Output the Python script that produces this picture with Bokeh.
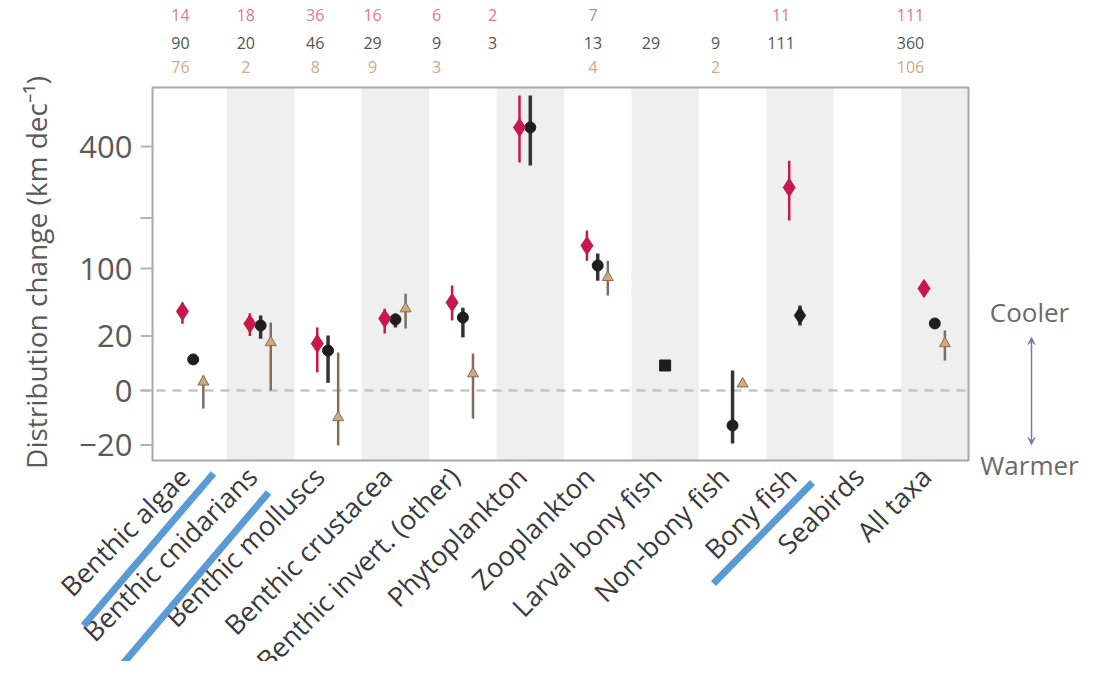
import numpy as np
from bokeh.plotting import figure
from bokeh.models import Range1d, Arrow, VeeHead, ColumnDataSource
from bokeh.core.properties import value
from bokeh.embed import file_html
from bokeh.resources import INLINE

nan = float("nan")

# ---------------- data ----------------
categories = ["Benthic algae", "Benthic cnidarians", "Benthic molluscs", "Benthic crustacea",
              "Benthic invert. (other)", "Phytoplankton", "Zooplankton", "Larval bony fish",
              "Non-bony fish", "Bony fish", "Seabirds", "All taxa"]

red_mid = [42, 30, 14.8, 34.8, 52, 465, 141, nan, nan, 277, nan, 70]
red_lo = [30, 20, 2.2, 21.8, 33, 349, 113, nan, nan, 194, nan, 59]
red_hi = [52, 40, 26.7, 45, 74, 585, 172, nan, nan, 355, nan, 81]

black_mid = [6.5, 28.4, 10.7, 33.9, 35.8, 465, 105, 4.2, -8.2, 37.8, nan, 30.2]
black_lo = [nan, 18, 0.4, 26.7, 18.9, 340, 81, nan, -18.9, 28.4, nan, nan]
black_hi = [nan, 37.8, 20.3, 39.8, 46, 585, 126, nan, 2.7, 48.5, nan, nan]
black_marker = ["circle", "circle", "circle", "circle", "circle", "circle", "circle",
                "square", "circle", "diamond", "circle", "circle"]

tan_mid = [0.5, 15.5, -4.9, 45, 1.9, nan, 86, nan, 0.3, nan, nan, 14.8]
tan_lo = [-2.2, 0, -20.3, 25.8, -5.3, nan, 60.6, nan, nan, nan, nan, 6]
tan_hi = [1.5, 31, 9.7, 63, 9.2, nan, 113, nan, nan, nan, nan, 24.2]

red_n = ["14", "18", "36", "16", "6", "2", "7", "", "", "11", "", "111"]
black_n = ["90", "20", "46", "29", "9", "3", "13", "29", "9", "111", "", "360"]
tan_n = ["76", "2", "8", "9", "3", "", "4", "", "2", "", "", "106"]

y_ticks = [-20, 0, 20, 100, 200, 400]
y_tick_labels = ["\u221220", "0", "20", "100", "", "400"]
y_title = "Distribution change (km dec\u207b\u00b9)"

highlighted = ["Benthic algae", "Benthic cnidarians", "Bony fish"]

# ---------------- layout (canvas px) ----------------
W, H = 1080, 661
FRAME_L, FRAME_T, FRAME_R, FRAME_B = 152, 87, 968, 460
X0 = -0.604                       # data x at frame left
PX_PER_CAT = (FRAME_R - FRAME_L) / (11.5 - X0)
Y0_PX = 390                       # pixel row of value 0
PX_PER_Y = 12.2                   # px per sqrt-unit


def px2x(px):
    return X0 + (px - FRAME_L) / PX_PER_CAT


def py2y(py):
    return (Y0_PX - py) / PX_PER_Y


def tr(v):
    v = np.asarray(v, dtype=float)
    return np.sign(v) * np.sqrt(np.abs(v))


count_dx = [-0.19, -0.22, -0.19, -0.34, -0.39, -0.56, -0.07, -0.21, -0.25, -0.28, 0, -0.36]
# blue highlight strokes (canvas px): start, end
strokes = {"Benthic algae": ((83, 625), (213, 473)),
           "Benthic cnidarians": ((115, 672), (268, 492)),
           "Bony fish": ((713, 583), (812, 482))}

RED, BLACK, TAN_M, TAN_L = "#c8174a", "#1e1e1e", "#d6a878", "#7f6e60"
FONT = "Open Sans"

p = figure(width=W, height=H, output_backend="svg", toolbar_location=None,
           x_range=Range1d(px2x(0), px2x(W)), y_range=Range1d(py2y(H), py2y(0)),
           x_axis_location=None, y_axis_location=None, min_border=0)
p.xgrid.visible = False
p.ygrid.visible = False
p.outline_line_color = None
p.background_fill_color = "white"
p.border_fill_color = "white"

idx = np.arange(len(categories))
fb, ft = py2y(FRAME_B), py2y(FRAME_T)
fl, fr = px2x(FRAME_L), px2x(FRAME_R)

# alternating bands
band_i = idx[idx % 2 == 1]
p.quad(left=band_i - 0.5, right=np.minimum(band_i + 0.5, fr), bottom=fb, top=ft,
       fill_color="#efefef", line_color=None)

# zero line
p.segment(x0=[px2x(FRAME_L - 12)], y0=[0], x1=[fr], y1=[0], line_color="#c4c4c4",
          line_width=2.5, line_dash="9 7")

# frame outline
p.quad(left=[fl], right=[fr], bottom=[fb], top=[ft], fill_color=None,
       line_color="#a8a8a8", line_width=2)

# y ticks + labels
ty = tr(y_ticks)
p.segment(x0=px2x(FRAME_L - 12), y0=ty, x1=fl, y1=ty, line_color="#b4b4b4", line_width=2)
p.text(x=[px2x(FRAME_L - 20)] * len(ty), y=ty, text=y_tick_labels, text_align="right",
       text_baseline="middle", text_font=value(FONT), text_font_size=value("31px"),
       text_color="#5a5a5a")
p.text(x=[px2x(35)], y=[py2y(272)], text=[y_title], angle=np.pi / 2, text_align="center",
       text_baseline="middle", text_font=value(FONT), text_font_size=value("28px"),
       text_color="#5a5a5a")

# series
OFF = {"red": -0.16, "black": 0.0, "tan": 0.15}


def seg(x, lo, hi, color, width):
    src = ColumnDataSource(dict(x=x, lo=tr(lo), hi=tr(hi)))
    p.segment(x0="x", y0="lo", x1="x", y1="hi", source=src, line_color=color, line_width=width)


seg(idx + OFF["tan"], tan_lo, tan_hi, TAN_L, 2.5)
seg(idx + OFF["black"], black_lo, black_hi, "#333333", 3.5)
seg(idx + OFF["red"], red_lo, red_hi, RED, 2.5)

p.scatter(x=idx + OFF["tan"], y=tr(tan_mid), marker="triangle", size=11,
          fill_color=TAN_M, line_color=TAN_L, line_width=1)
black_size = [17 if m == "diamond" else 11 for m in black_marker]
p.scatter(x=idx + OFF["black"], y=tr(black_mid), marker=black_marker, size=black_size,
          fill_color=BLACK, line_color=BLACK)
p.scatter(x=idx + OFF["red"], y=tr(red_mid), marker="diamond", size=18,
          fill_color=RED, line_color=RED)

# category labels (rotated)
p.text(x=idx - 0.13, y=[py2y(471)] * len(idx), text=categories, angle=np.pi / 4,
       text_align="right", text_baseline="middle", text_font=value(FONT),
       text_font_size=value("27px"), text_color="#3a3a3a")

# counts above frame
for vals, py, col in [(red_n, 14, "#e07890"), (black_n, 42, "#555555"), (tan_n, 66, "#d2a880")]:
    p.text(x=idx + np.array(count_dx), y=[py2y(py)] * len(idx), text=vals, text_align="center",
           text_baseline="middle", text_font=value(FONT), text_font_size=value("16px"),
           text_color=col)

# Cooler / Warmer
p.text(x=[px2x(1029)] * 2, y=[py2y(311), py2y(464)], text=["Cooler", "Warmer"],
       text_align="center", text_baseline="middle", text_font=value(FONT),
       text_font_size=value("26px"), text_color="#6a6a6a")
p.add_layout(Arrow(x_start=px2x(1031), y_start=py2y(337), x_end=px2x(1031), y_end=py2y(444),
                   line_color="#7a7a96", line_width=1.5,
                   start=VeeHead(size=7, fill_color="#7a7a96", line_color="#7a7a96"),
                   end=VeeHead(size=7, fill_color="#7a7a96", line_color="#7a7a96")))

# blue highlight strokes
for name in highlighted:
    (sx, sy), (ex, ey) = strokes[name]
    p.line(x=[px2x(sx), px2x(ex)], y=[py2y(sy), py2y(ey)], line_color="#5b9bd5",
           line_width=7)

open("out.html", "w").write(file_html(p, INLINE))
